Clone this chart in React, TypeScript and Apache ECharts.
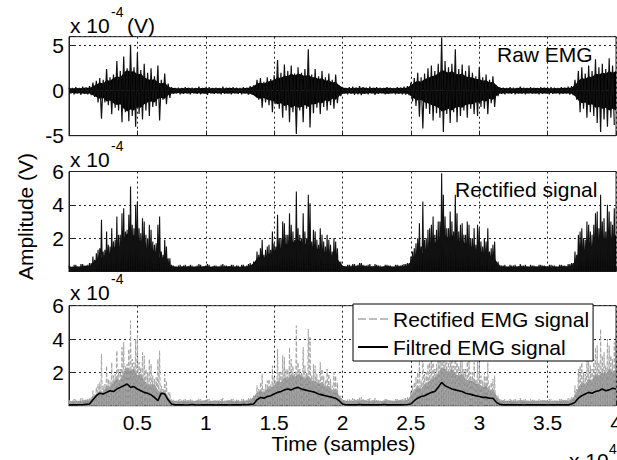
import React, { useEffect, useRef } from 'react';
import * as echarts from 'echarts';

// Each bin = 250 samples; value = positive / negative peak of the raw EMG in that bin (x 1e-4 V)
const BIN = 250;
const rawPos = [
  0.35, 0.3, 0.4, 0.3, 0.45, 0.35, 0.5,
  0.9, 1.1, 1.4, 1.2, 2.4, 1.5, 1.8, 3.3, 2.2, 3.8, 2.5, 5.1, 2.6, 4.2, 2.3, 3.0, 2.0, 2.5, 1.6, 2.8, 1.2, 1.9, 0.8,
  0.4, 0.3, 0.35, 0.3, 0.4, 0.3, 0.35, 0.3, 0.45, 0.3, 0.35, 0.4, 0.3, 0.35, 0.3, 0.45, 0.35, 0.3, 0.4, 0.35, 0.3, 0.4, 0.35, 0.5,
  0.6, 1.2, 1.4, 1.0, 1.5, 1.3, 1.7, 3.4, 2.0, 2.9, 2.2, 2.8, 1.9, 2.6, 2.0, 2.4, 4.6, 1.8, 2.4, 1.6, 2.2, 1.5, 1.9, 1.2, 1.8, 0.6,
  0.35, 0.3, 0.4, 0.45, 0.35, 0.5, 0.4, 0.35, 0.45, 0.3, 0.4, 0.35, 0.3, 0.4, 0.35, 0.3, 0.4, 0.35, 0.45, 0.5,
  0.9, 1.4, 2.0, 1.5, 1.9, 2.5, 2.8, 2.2, 3.0, 5.9, 3.3, 2.6, 3.0, 4.6, 2.4, 2.9, 2.2, 2.8, 2.0, 1.6, 2.6, 1.5, 1.8, 1.2, 1.6, 0.6,
  0.4, 0.35, 0.3, 0.4, 0.35, 0.3, 0.45, 0.35, 0.3, 0.4, 0.35, 0.3, 0.4, 0.35, 0.3, 0.4, 0.35, 0.3, 0.4, 0.35, 0.45, 0.5,
  1.2, 2.2, 2.6, 1.9, 2.8, 2.2, 3.5, 2.6, 3.0, 2.4, 3.6, 2.8,
];
const rawNeg = [
  -0.3, -0.4, -0.3, -0.45, -0.35, -0.4, -0.5,
  -0.7, -1.3, -3.1, -1.3, -1.6, -2.6, -1.9, -2.2, -3.5, -2.4, -3.4, -2.8, -4.0, -2.6, -3.2, -2.2, -2.8, -1.8, -1.7, -3.3, -1.0, -1.5, -0.8,
  -0.35, -0.3, -0.4, -0.35, -0.3, -0.4, -0.3, -0.35, -0.4, -0.3, -0.45, -0.3, -0.35, -0.3, -0.4, -0.35, -0.3, -0.4, -0.3, -0.35, -0.4, -0.3, -0.45, -0.4,
  -0.5, -1.0, -1.9, -1.3, -1.6, -2.4, -1.5, -2.0, -3.0, -2.2, -3.5, -2.4, -4.8, -2.2, -3.5, -2.0, -4.1, -2.5, -1.9, -2.6, -1.8, -2.2, -1.6, -2.0, -1.4, -0.6,
  -0.3, -0.4, -0.35, -0.45, -0.4, -0.5, -0.35, -0.4, -0.3, -0.45, -0.35, -0.3, -0.4, -0.35, -0.3, -0.4, -0.35, -0.4, -0.45, -0.5,
  -1.2, -1.7, -2.9, -4.2, -2.0, -2.6, -3.3, -2.5, -3.0, -4.6, -2.6, -3.6, -2.4, -3.5, -2.8, -2.2, -3.0, -2.0, -2.6, -2.8, -1.8, -2.0, -2.6, -1.4, -1.8, -0.6,
  -0.35, -0.4, -0.3, -0.35, -0.4, -0.3, -0.35, -0.4, -0.3, -0.35, -0.3, -0.4, -0.35, -0.3, -0.4, -0.35, -0.3, -0.4, -0.35, -0.3, -0.45, -0.5,
  -1.0, -2.4, -2.0, -3.0, -2.4, -2.8, -3.6, -4.6, -3.2, -4.0, -3.0, -3.8,
];
// Dense "core" amplitude of the EMG (the solid black mass), one value every 250 samples (x 1e-4 V)
const CORE_STEP = 250;
const rawCore = [
  0.3, 0.25, 0.3, 0.28, 0.3, 0.35, 0.3,
  0.5, 0.7, 0.9, 0.8, 1.2, 1.1, 1.4, 1.6, 1.5, 2.0, 2.3, 2.1, 2.2, 1.8, 1.9, 1.5, 1.3, 1.2, 1.3, 0.9, 0.8, 0.9, 0.5, 0.3,
  0.3, 0.25, 0.3, 0.28, 0.32, 0.25, 0.3, 0.27, 0.3, 0.33, 0.25, 0.3, 0.28, 0.3, 0.25, 0.3, 0.32, 0.27, 0.3, 0.25, 0.3, 0.3, 0.35,
  0.5, 0.8, 0.9, 0.8, 1.0, 1.1, 1.2, 1.5, 1.4, 1.7, 1.6, 1.9, 1.7, 1.9, 1.8, 1.6, 1.8, 1.5, 1.5, 1.3, 1.4, 1.1, 1.2, 0.9, 1.0, 0.6, 0.35,
  0.3, 0.28, 0.3, 0.32, 0.3, 0.35, 0.3, 0.28, 0.32, 0.3, 0.27, 0.3, 0.33, 0.3, 0.28, 0.3, 0.32, 0.3, 0.35,
  0.6, 0.9, 1.1, 1.0, 1.3, 1.4, 1.6, 1.7, 1.9, 2.3, 2.2, 2.0, 2.2, 1.9, 1.8, 1.9, 1.6, 1.5, 1.5, 1.3, 1.3, 1.1, 1.2, 0.9, 1.0, 0.6, 0.3,
  0.3, 0.28, 0.3, 0.25, 0.3, 0.32, 0.28, 0.3, 0.27, 0.3, 0.3, 0.28, 0.32, 0.3, 0.25, 0.3, 0.28, 0.3, 0.32, 0.3, 0.35,
  0.6, 1.1, 1.4, 1.3, 1.6, 1.5, 1.9, 1.8, 2.0, 1.9, 2.2, 2.0, 2.2,
];
// Filtered envelope, one value every 250 samples (x 1e-4 V)
const FILT_STEP = 250;
const filtered = [
  0.05, 0.05, 0.05, 0.06, 0.06, 0.08, 0.1, 0.35, 0.6, 0.75, 0.7, 0.8, 0.9, 0.85, 1.0, 1.1,
  1.2, 1.3, 1.1, 1.15, 1.0, 0.9, 0.8, 0.75, 0.65, 0.5, 0.3, 0.75, 0.7, 0.35, 0.1, 0.05,
  0.05, 0.06, 0.04, 0.05, 0.07, 0.05, 0.04, 0.06, 0.05, 0.05, 0.06, 0.04, 0.05, 0.06, 0.05, 0.04, 0.06, 0.05, 0.05, 0.07, 0.06,
  0.08, 0.1, 0.35, 0.5, 0.45, 0.55, 0.6, 0.7, 0.8, 0.85, 0.95, 1.0, 0.95, 1.05, 1.1, 1.0,
  0.95, 0.9, 0.85, 0.8, 0.7, 0.65, 0.6, 0.55, 0.5, 0.45, 0.3, 0.1,
  0.06, 0.05, 0.06, 0.05, 0.07, 0.05, 0.06, 0.05, 0.06, 0.05, 0.06, 0.07, 0.05, 0.06, 0.05, 0.06, 0.05, 0.06, 0.07,
  0.1, 0.3, 0.45, 0.55, 0.6, 0.7, 0.8, 0.85, 1.1, 1.4, 1.2, 1.1, 1.0, 0.95, 0.9, 0.85,
  0.75, 0.7, 0.65, 0.6, 0.55, 0.5, 0.5, 0.45, 0.45, 0.2, 0.08,
  0.05, 0.06, 0.05, 0.05, 0.06, 0.05, 0.04, 0.05, 0.06, 0.05, 0.05, 0.06, 0.05, 0.04, 0.05, 0.06, 0.05, 0.05, 0.06, 0.05,
  0.1, 0.2, 0.45, 0.6, 0.7, 0.8, 0.75, 0.85, 0.9, 1.0, 0.9, 0.95, 1.05, 1.0,
];
const xTickStep = 5000;
const legendNames = ['Rectified EMG signal', 'Filtred EMG signal'];

const FONT = "'Liberation Sans', Arial, Helvetica, sans-serif";

export default function App() {
  const ref = useRef<HTMLDivElement>(null);
  useEffect(() => {
    document.body.style.margin = '0';
    const chart = echarts.init(ref.current as HTMLDivElement, null, { renderer: 'svg' });

    const rawData: number[][] = [];
    const rectData: number[][] = [];
    rawPos.forEach((p, i) => {
      rawData.push([i * BIN, p]);
      rawData.push([i * BIN + BIN / 2, rawNeg[i]]);
      rectData.push([i * BIN, Math.abs(p)]);
      rectData.push([i * BIN + BIN / 4, 0]);
      rectData.push([i * BIN + BIN / 2, Math.abs(rawNeg[i])]);
      rectData.push([i * BIN + (3 * BIN) / 4, 0]);
    });
    const coreUp = rawCore.map((v, i) => [i * CORE_STEP, v]);
    const coreDown = rawCore.map((v, i) => [i * CORE_STEP, -v]);
    const filtData = filtered.map((v, i) => [i * FILT_STEP, v]);

    const gridBase = {
      left: 69, right: 1, show: true, borderColor: '#222', borderWidth: 1,
      containLabel: false, outerBoundsMode: 'none',
    };
    const grids = [
      { ...gridBase, top: 36.7, height: 99 },
      { ...gridBase, top: 171.5, height: 100 },
      { ...gridBase, top: 305.7, height: 100 },
    ];
    const split = { show: true, lineStyle: { color: '#222', type: [2, 3], width: 1 } };
    const xAxes = [0, 1, 2].map((g) => ({
      type: 'value',
      gridIndex: g,
      min: 0,
      max: 40000,
      interval: xTickStep,
      axisLine: { show: true, onZero: false, lineStyle: { color: '#222' } },
      axisTick: { show: true, inside: true, length: 5, lineStyle: { color: '#222' } },
      splitLine: split,
      axisLabel: {
        show: g === 2,
        margin: 6,
        fontSize: 21,
        color: '#000',
        fontFamily: FONT,
        formatter: (v: number) => (v === 0 ? '' : String(v / 10000)),
      },
    }));
    const yAxes = [
      {
        type: 'value', gridIndex: 0, min: -5, max: 6, interval: 5,
        axisLabel: { formatter: (v: number) => (v % 5 === 0 ? String(v) : '') },
      },
      {
        type: 'value', gridIndex: 1, min: 0, max: 6, interval: 2,
        axisLabel: { formatter: (v: number) => (v === 0 ? '' : String(v)) },
      },
      {
        type: 'value', gridIndex: 2, min: 0, max: 6, interval: 2,
        axisLabel: { formatter: (v: number) => (v === 0 ? '' : String(v)) },
      },
    ].map((a) => ({
      ...a,
      axisLine: { show: true, onZero: false, lineStyle: { color: '#222' } },
      axisTick: { show: true, inside: true, length: 5, lineStyle: { color: '#222' } },
      splitLine: split,
      axisLabel: { ...a.axisLabel, margin: 5, fontSize: 21, color: '#000', fontFamily: FONT },
    }));

    const txt = (text: string, x: number, y: number, size = 21, extra: any = {}) => ({
      type: 'text',
      x,
      y,
      z: 100,
      style: { text, fontSize: size, fontFamily: FONT, fill: '#000', verticalAlign: 'middle', ...extra },
    });

    const areaSeries = (name: string, axis: number, data: number[][], color: string) => ({
      name, type: 'line', xAxisIndex: axis, yAxisIndex: axis, data,
      symbol: 'none', silent: true, lineStyle: { width: 0, color }, itemStyle: { color },
      areaStyle: { color, opacity: 1 }, z: 2,
    });

    chart.setOption({
      animation: false,
      grid: grids,
      xAxis: xAxes,
      yAxis: yAxes,
      legend: {
        data: [
          {
            name: legendNames[0],
            icon: 'path://M0,0h8v2h-8z M11,0h8v2h-8z M22,0h8v2h-8z',
            itemStyle: { color: '#bdbdbd', borderWidth: 0 },
          },
          { name: legendNames[1], icon: 'rect', itemStyle: { color: '#000', borderWidth: 0 } },
        ],
        orient: 'vertical',
        left: 353,
        top: 304,
        padding: [3, 4, 2, 5],
        itemGap: 4,
        itemWidth: 30,
        itemHeight: 2,
        borderColor: '#000',
        borderWidth: 1,
        backgroundColor: '#fff',
        selectedMode: false,
        itemStyle: { borderWidth: 0 },
        textStyle: { fontSize: 21, lineHeight: 24, color: '#000', fontFamily: FONT },
        z: 50,
      },
      series: [
        areaSeries('core+', 0, coreUp, '#000'),
        areaSeries('core-', 0, coreDown, '#000'),
        {
          name: 'Raw EMG', type: 'line', xAxisIndex: 0, yAxisIndex: 0, data: rawData,
          symbol: 'none', silent: true, lineStyle: { color: '#111', width: 1.2 }, itemStyle: { color: '#000' },
          z: 3,
        },
        areaSeries('rect core', 1, coreUp, '#000'),
        {
          name: 'Rectified signal', type: 'line', xAxisIndex: 1, yAxisIndex: 1, data: rectData,
          symbol: 'none', silent: true, lineStyle: { color: '#111', width: 1.1 }, itemStyle: { color: '#000' },
          z: 3,
        },
        areaSeries('gray core', 2, coreUp, '#8c8c8c'),
        {
          name: legendNames[0], type: 'line', xAxisIndex: 2, yAxisIndex: 2, data: rectData,
          symbol: 'none', silent: true, lineStyle: { color: '#a4a4a4', width: 1, type: [4, 2] },
          itemStyle: { color: '#a4a4a4' }, z: 3,
        },
        {
          name: legendNames[1], type: 'line', xAxisIndex: 2, yAxisIndex: 2, data: filtData,
          symbol: 'none', silent: true, lineStyle: { color: '#000', width: 1.6 }, itemStyle: { color: '#000' },
          z: 5,
        },
      ],
      graphic: [
        txt('x 10', 70, 25),
        txt('-4', 111, 12, 14),
        txt('(V)', 127, 25),
        txt('x 10', 70, 159),
        txt('-4', 111, 146, 14),
        txt('x 10', 70, 292),
        txt('-4', 111, 279, 14),
        txt('x 10', 569, 460),
        txt('4', 609, 449, 14),
        txt('Raw EMG', 497, 54),
        txt('Rectified signal', 455, 189),
        txt('Time (samples)', 343.5, 443, 21, { align: 'center' }),
        {
          type: 'text',
          x: 25.5,
          y: 216.5,
          rotation: Math.PI / 2,
          z: 100,
          style: {
            text: 'Amplitude (V)', fontSize: 21, fontFamily: FONT, fill: '#000',
            align: 'center', verticalAlign: 'middle',
          },
        },
      ],
    });
    return () => chart.dispose();
  }, []);
  return <div ref={ref} style={{ width: 617, height: 460 }} />;
}
